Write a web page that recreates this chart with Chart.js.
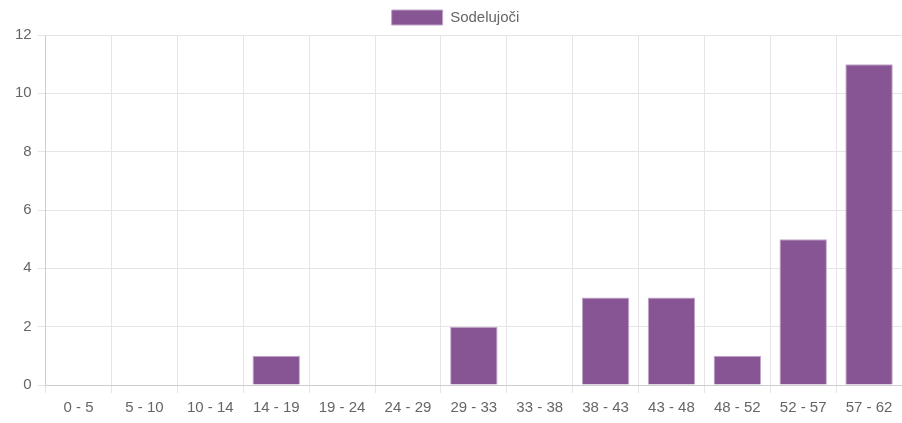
<!DOCTYPE html>
<html lang="sl">
<head>
<meta charset="UTF-8">
<title>Sodelujoči</title>
<script src="https://cdn.jsdelivr.net/npm/chart.js"></script>
<style>
    html, body { margin: 0; padding: 0; background: #fff; }
    #wrap { width: 902px; height: 423px; }
</style>
</head>
<body>
<div id="wrap"><canvas id="myChart"></canvas></div>
<script>
    // Starostne skupine in število sodelujočih
    const kategorije = ['0 - 5', '5 - 10', '10 - 14', '14 - 19', '19 - 24', '24 - 29', '29 - 33', '33 - 38', '38 - 43', '43 - 48', '48 - 52', '52 - 57', '57 - 62'];
    const sodelujoci = [0, 0, 0, 1, 0, 0, 2, 0, 3, 3, 1, 5, 11];

    Chart.defaults.font.family = "'Liberation Sans', Arial, sans-serif";
    Chart.defaults.font.size = 15;
    Chart.defaults.color = '#666';

    new Chart(document.getElementById('myChart'), {
        type: 'bar',
        data: {
            labels: kategorije,
            datasets: [{
                label: 'Sodelujoči',
                data: sodelujoci,
                backgroundColor: '#875594',
                borderColor: '#c2a6c9',
                borderWidth: 1
            }]
        },
        options: {
            responsive: true,
            maintainAspectRatio: false,
            animation: false,
            layout: { padding: { left: 9, right: 0, top: 0, bottom: 0 } },
            plugins: {
                legend: {
                    labels: { boxWidth: 51, boxHeight: 15, padding: 10 }
                },
                tooltip: { enabled: false }
            },
            scales: {
                y: {
                    beginAtZero: true,
                    max: 12,
                    ticks: { stepSize: 2, padding: 6 },
                    grid: { color: '#e5e5e5' }
                },
                x: {
                    ticks: { padding: 6 },
                    grid: { color: '#e5e5e5' }
                }
            }
        }
    });
</script>
</body>
</html>
